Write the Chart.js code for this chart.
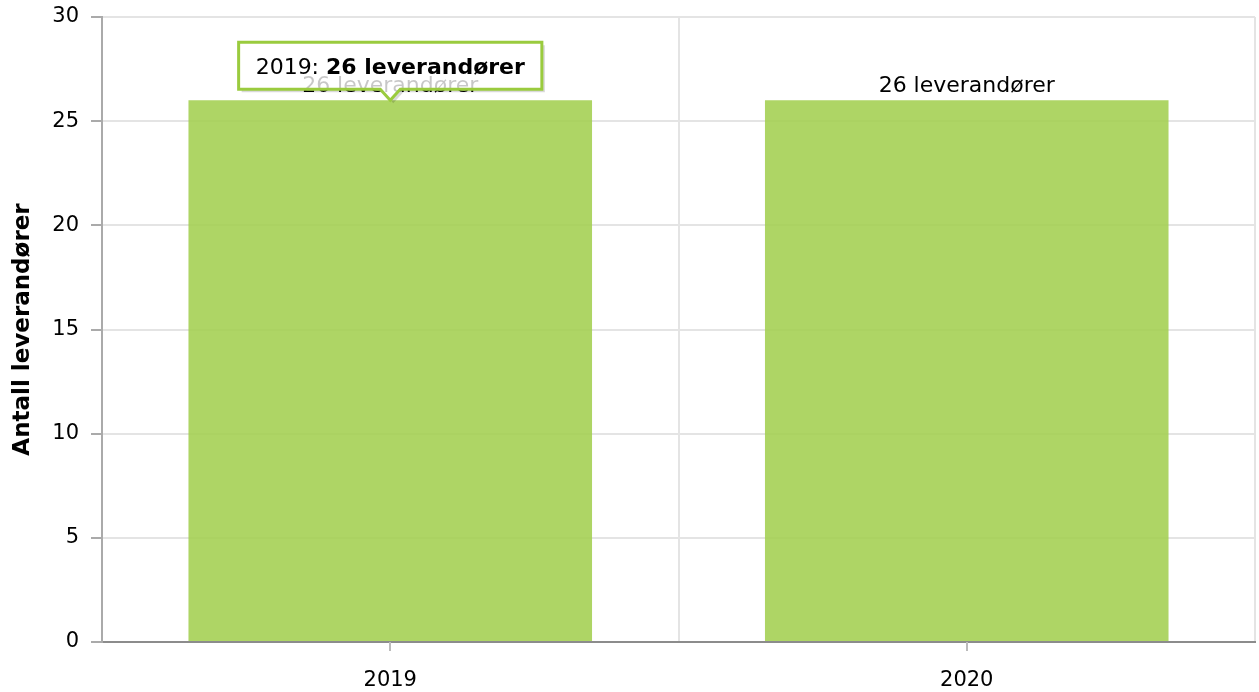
<!DOCTYPE html>
<html>
<head>
<meta charset="utf-8">
<script src="https://cdn.jsdelivr.net/npm/chart.js@4"></script>
<style>
  html, body { margin: 0; padding: 0; background: #fff; }
  #wrap { width: 1259px; height: 692px; }
</style>
</head>
<body>
<div id="wrap"><canvas id="myChart" width="1259" height="692"></canvas></div>
<script>
var years = ["2019", "2020"];
var suppliers = [26, 26];
var unit = "leverandører";
var yTitle = "Antall leverandører";
var activeIndex = 0; // bar with the tooltip showing

var FONT = "'DejaVu Sans', Verdana, sans-serif";

// tick marks under x axis, value labels and the tooltip box
var extras = {
  id: "extras",
  afterDatasetsDraw: function (chart) {
    var ctx = chart.ctx;
    var xs = chart.scales.x;
    var area = chart.chartArea;
    ctx.save();
    // x tick marks at the category centres
    ctx.strokeStyle = "#bbbbbb";
    ctx.lineWidth = 2;
    for (var i = 0; i < years.length; i++) {
      var px = Math.round(xs.getPixelForValue(i));
      ctx.beginPath();
      ctx.moveTo(px, area.bottom);
      ctx.lineTo(px, area.bottom + 9);
      ctx.stroke();
    }
    // value labels above bars
    var meta = chart.getDatasetMeta(0);
    ctx.fillStyle = "#000";
    ctx.font = "22px " + FONT;
    ctx.textAlign = "center";
    ctx.textBaseline = "alphabetic";
    meta.data.forEach(function (bar, i) {
      ctx.fillText(suppliers[i] + " " + unit, bar.x, bar.y - 8);
    });

    // tooltip
    var bar = meta.data[activeIndex];
    var pre = years[activeIndex] + ": ";
    var bold = suppliers[activeIndex] + " " + unit;
    ctx.font = "22px " + FONT;
    var w1 = ctx.measureText(pre).width;
    ctx.font = "bold 22px " + FONT;
    var w2 = ctx.measureText(bold).width;
    var boxW = w1 + w2 + 34;
    var boxH = 47;
    var tipY = bar.y;
    var bx = bar.x - boxW / 2;
    var by = tipY - 11 - boxH;

    function shape(ox, oy) {
      ctx.beginPath();
      ctx.moveTo(bx + ox, by + oy);
      ctx.lineTo(bx + boxW + ox, by + oy);
      ctx.lineTo(bx + boxW + ox, by + boxH + oy);
      ctx.lineTo(bar.x + 10 + ox, by + boxH + oy);
      ctx.lineTo(bar.x + ox, tipY + oy);
      ctx.lineTo(bar.x - 10 + ox, by + boxH + oy);
      ctx.lineTo(bx + ox, by + boxH + oy);
      ctx.closePath();
    }
    // shadow, kept outside the box itself
    ctx.save();
    ctx.beginPath();
    ctx.rect(0, 0, chart.width, chart.height);
    ctx.moveTo(bx, by);
    ctx.lineTo(bx, by + boxH);
    ctx.lineTo(bar.x - 10, by + boxH);
    ctx.lineTo(bar.x, tipY);
    ctx.lineTo(bar.x + 10, by + boxH);
    ctx.lineTo(bx + boxW, by + boxH);
    ctx.lineTo(bx + boxW, by);
    ctx.closePath();
    ctx.clip("evenodd");
    shape(3, 3);
    ctx.fillStyle = "rgba(0,0,0,0.15)";
    ctx.fill();
    ctx.restore();

    shape(0, 0);
    ctx.fillStyle = "rgba(255,255,255,0.78)";
    ctx.fill();
    ctx.lineWidth = 3;
    ctx.strokeStyle = "#9acb3e";
    ctx.lineJoin = "miter";
    ctx.stroke();

    ctx.fillStyle = "#000";
    ctx.textAlign = "left";
    ctx.font = "22px " + FONT;
    var tx = bx + 17;
    var ty = by + 32;
    ctx.fillText(pre, tx, ty);
    ctx.font = "bold 22px " + FONT;
    ctx.fillText(bold, tx + w1, ty);
    ctx.restore();
  }
};

var ctx = document.getElementById("myChart").getContext("2d");
var myChart = new Chart(ctx, {
  type: "bar",
  data: {
    labels: years,
    datasets: [
      {
        label: yTitle,
        data: suppliers,
        backgroundColor: "rgba(163, 207, 80, 0.88)",
        borderWidth: 0,
        barPercentage: 0.7,
        categoryPercentage: 1.0,
      },
    ],
  },
  options: {
    responsive: false,
    animation: false,
    layout: { padding: { top: 0, right: 4, left: 0, bottom: 0 } },
    plugins: {
      legend: { display: false },
      tooltip: { enabled: false },
    },
    scales: {
      x: {
        offset: true,
        grid: {
          offset: true,
          color: "#e4e4e4",
          lineWidth: 2,
          drawTicks: false,
        },
        border: { color: "#8c8c8c", width: 2 },
        ticks: {
          color: "#000",
          font: { family: FONT, size: 21 },
          padding: 26,
        },
        afterFit: function (scale) { scale.height = 50; },
      },
      y: {
        min: 0,
        max: 30,
        ticks: {
          stepSize: 5,
          color: "#000",
          font: { family: FONT, size: 21 },
          padding: 12,
        },
        grid: {
          color: "#e4e4e4",
          lineWidth: 2,
          tickLength: 11,
          tickColor: "#aaaaaa",
        },
        border: { color: "#aaaaaa", width: 2 },
        title: {
          display: true,
          text: yTitle,
          color: "#000",
          font: { family: FONT, size: 23, weight: "bold" },
          padding: { top: 9, bottom: 6 },
        },
        afterFit: function (scale) {
          scale.width = 102;
          scale.paddingTop = 17;
        },
      },
    },
  },
  plugins: [extras],
});
</script>
</body>
</html>
